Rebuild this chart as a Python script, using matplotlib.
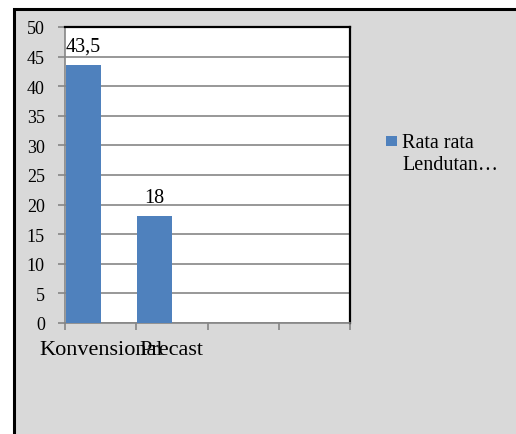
import matplotlib.pyplot as plt
from matplotlib.patches import Rectangle

categories = ["Konvensional", "Precast", "", ""]
values = [43.5, 18]
value_labels = ["43,5", "18"]
series_name = "Rata rata\nLendutan…"
yticks = [0, 5, 10, 15, 20, 25, 30, 35, 40, 45, 50]

BAR = "#4f81bd"
GRID = "#868686"

plt.rcParams["font.family"] = ["Liberation Serif", "DejaVu Serif"]

fig = plt.figure(figsize=(5.16, 4.35), dpi=100)
fig.patch.set_facecolor("white")

# chart area frame, runs off the bottom/right edge
frame = Rectangle((13.5 / 516, -0.05), 1.0, 1 - 9.5 / 435 + 0.05,
                  transform=fig.transFigure, facecolor="#d9d9d9",
                  edgecolor="black", linewidth=2.2, zorder=-5)
fig.patches.append(frame)

ax = fig.add_axes([65 / 516, 111 / 435, 285 / 516, 296 / 435])
ax.set_zorder(2)
ax.set_facecolor("white")

xs = [i + 0.01 for i in range(len(values))]
bars = ax.bar(xs, values, width=0.49, align="edge", color=BAR, zorder=3)
for b, txt in zip(bars, value_labels):
    ax.annotate(txt, (b.get_x() + b.get_width() / 2, b.get_height()),
                xytext=(0, 10.5), textcoords="offset points",
                ha="center", va="baseline", fontsize=14.5)

ax.set_xlim(0, len(categories))
ax.set_ylim(0, 50)
ax.set_yticks(yticks)
ax.yaxis.grid(True, color=GRID, linewidth=1.2, zorder=1)
ax.set_axisbelow(True)

ax.set_xticks(range(len(categories) + 1))
ax.set_xticklabels([])
ax.set_xticks([i + 0.5 for i in range(len(categories))], minor=True)
ax.set_xticklabels(categories, minor=True, fontsize=16)
ax.tick_params(axis="x", which="minor", length=0, pad=12)
ax.tick_params(axis="x", which="major", length=5, color=GRID, width=1.2)
ax.tick_params(axis="y", length=5, color=GRID, width=1.2, pad=9.5,
               labelsize=13)

ax.spines["left"].set_color(GRID)
ax.spines["bottom"].set_color(GRID)
ax.spines["left"].set_linewidth(1.2)
ax.spines["bottom"].set_linewidth(1.2)
ax.spines["top"].set_color("black")
ax.spines["right"].set_color("black")
ax.spines["top"].set_linewidth(1.6)
ax.spines["right"].set_linewidth(1.6)

# legend: swatch sits beside the first line of the wrapped series name
swatch = Rectangle((386 / 516, 1 - 147 / 435), 11 / 516, 10 / 435,
                   transform=fig.transFigure, facecolor=BAR,
                   edgecolor="none", zorder=3)
fig.patches.append(swatch)
fig.text(402 / 516, 1 - 134 / 435, series_name, ha="left", va="top",
         fontsize=14.5, linespacing=1.2)

fig.savefig("out.png", dpi=100)
